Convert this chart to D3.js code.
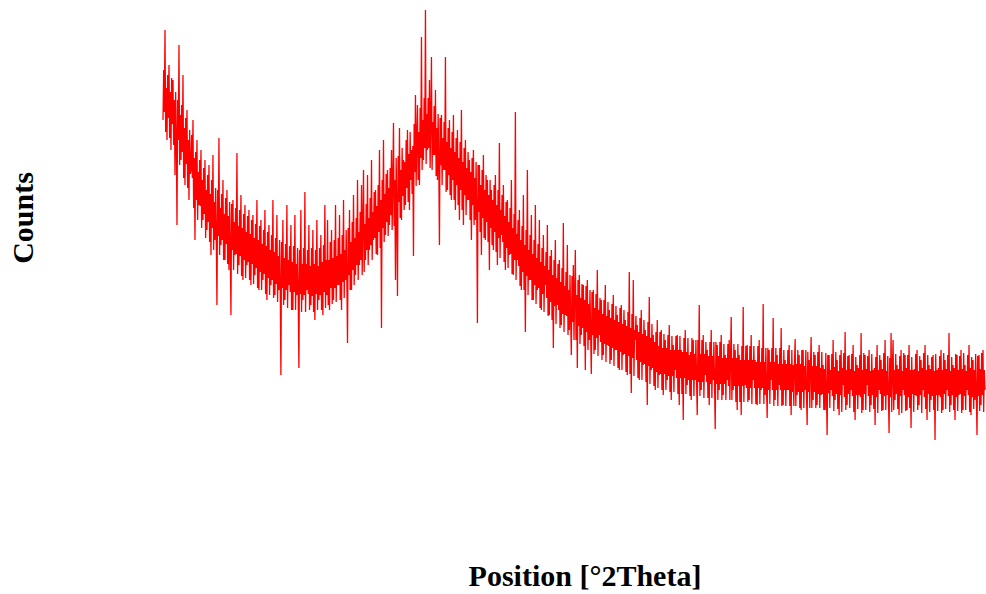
<!DOCTYPE html>
<html>
<head>
<meta charset="utf-8">
<script src="https://cdn.jsdelivr.net/npm/d3@7"></script>
<style>
  html, body { margin: 0; padding: 0; background: #fff; }
  svg { display: block; }
</style>
</head>
<body>
<svg id="chart" width="986" height="594"></svg>
<script>
// Scan settings (2Theta grid of the diffractometer)
const startAngle = 10;
const endAngle = 80;

// Each segment is stored as three interleaved sub-scans: peak, fill, core.
const peakA = [330,420,310,385,300,370,275,225,405,290,375,265,340,250,280,330,210,310,245,300,230,290,220,285,195,295,210,145,312,205,270,190,260,180,135,250,195,297,185,255,170,245,185,240,165,235,175,250,160,230,170,240,150,225,165,250,155,235,160,75,230,150,245,165,225,140,235,155,82,240,150,258,160,225,145,220,130,230,150,215,135,245,155];
const fillA = [380,318,375,312,372,305,358,350,285,345,272,332,262,320,315,242,298,230,290,222,282,212,275,208,270,200,262,260,195,256,190,252,186,248,246,180,242,176,240,174,236,172,234,170,230,166,226,162,224,160,220,156,218,155,215,152,212,148,210,208,145,206,142,204,140,204,140,202,200,138,202,138,200,140,202,138,200,140,202,140,205,142];
const coreA = [338,362,332,358,326,350,312,310,335,298,322,286,310,276,272,292,250,278,244,270,236,260,228,256,222,248,216,214,242,210,236,206,234,202,200,228,196,224,194,222,190,218,188,216,186,212,182,210,178,206,176,204,172,200,170,198,166,194,164,162,192,160,190,158,188,158,186,156,156,186,155,186,156,184,154,186,156,184,155,188,158,190];

const peakB = [230,140,220,150,245,165,235,140,250,170,107,240,160,255,175,270,185,265,280,190,275,200,290,210,260,195,300,122,310,215,280,225,300,327,170,154,322,230,290,245,320,240,300,194,355,345,265,413,290,440,300,370,393,295,360,270,205,335,280,393,260,330,250,335,240,320,230,340,225,310,250,290,210,300,230,127,285,195,295,210,270,180];
const fillB = [145,208,146,210,148,212,150,215,152,220,222,160,228,165,232,170,238,175,178,246,185,252,190,258,196,265,202,270,208,276,214,282,220,224,292,294,232,302,240,310,248,318,256,326,264,270,342,280,352,286,352,282,280,344,274,336,332,265,328,258,322,255,318,250,312,245,308,240,302,235,298,230,292,225,288,285,218,280,212,275,208,270];
const coreB = [190,162,192,162,194,165,196,168,200,172,175,208,180,212,185,218,190,224,226,200,232,205,238,212,244,218,250,222,256,228,262,235,268,270,244,248,280,254,288,262,296,270,304,278,312,318,292,330,302,336,302,332,328,295,322,288,285,312,280,308,275,302,270,298,265,292,260,288,255,282,250,278,245,272,240,238,265,232,260,228,255,222];

const peakC = [260,200,275,185,307,215,265,180,250,195,270,175,338,190,240,160,255,118,280,170,235,150,245,160,230,140,215,165,225,135,200,102,210,145,190,125,227,135,205,120,95,185,200,82,175,115,165,80,170,110,76,160,100,180,115,150,95,165,105,140,90,155,100,135,80,145,95,130,75,178,57,170,110,125,70,140,85,120,45,153,80,115];
const fillC = [205,265,198,260,192,255,188,248,182,242,176,236,170,230,164,224,160,220,155,215,150,210,146,206,142,202,138,198,134,194,130,190,126,186,122,182,118,178,115,175,174,110,110,170,106,166,104,164,100,160,158,96,156,94,152,90,150,88,148,86,146,84,144,82,142,80,140,78,138,76,136,74,134,72,132,70,130,68,128,66,126,64];
const coreC = [250,218,245,212,240,208,234,202,228,196,222,190,216,184,210,178,205,174,200,170,196,165,192,162,188,156,184,152,180,148,175,144,172,140,168,136,164,134,160,130,128,156,155,124,152,122,150,118,146,116,115,142,112,140,108,136,106,134,104,132,102,130,100,128,98,126,96,124,94,122,92,120,90,118,88,116,86,114,84,112,82,108];

const peakD = [60,130,75,120,55,110,70,125,50,105,80,115,45,100,30,120,65,95,50,110,70,35,145,60,115,75,100,45,120,70,21,105,60,115,55,95,70,110,133,60,100,40,95,35,143,65,105,50,115,70,90,45,110,60,146,55,32,100,70,132,50,95,65,122,45,90,60,105,35,85,111,55,95,40,100,60,25,90,113,50,95,45];
const fillD = [118,62,118,60,116,60,115,58,114,58,114,56,114,56,112,56,112,54,112,54,110,110,54,110,52,108,52,108,52,108,108,50,108,50,106,50,106,50,50,106,48,106,48,104,48,104,48,104,46,104,46,104,46,102,46,102,102,46,102,44,102,44,102,44,100,44,100,44,100,44,44,100,42,100,42,100,98,42,42,98,42,98];
const coreD = [78,104,76,102,76,102,74,100,74,100,72,100,72,98,72,98,70,98,70,96,70,68,96,68,96,68,94,66,94,66,66,94,66,92,66,92,64,92,92,64,92,64,90,64,90,62,90,62,90,62,88,62,88,62,88,62,60,88,60,88,60,86,60,86,60,86,60,86,58,86,86,58,86,58,84,58,58,84,84,58,84,56];

const peakE = [105,55,85,40,15,95,60,110,50,90,35,100,65,118,45,95,60,105,30,85,55,117,40,95,65,100,45,80,25,105,60,90,40,110,55,17,117,110,50,85,35,100,60,95,40,105,22,80,55,100,45,90,60,105,30,85,50,95,10,80,55,100,40,90,60,117,45,85,30,95,55,100,40,85,60,105,35,90,50,15,95,45,100,60];
const fillE = [42,98,40,97,95,42,96,39,98,41,95,38,97,40,94,42,96,38,93,41,95,37,97,40,94,38,96,41,93,37,95,39,97,40,94,92,38,40,96,41,94,37,97,39,95,42,93,38,96,40,94,37,97,41,95,38,93,40,96,39,94,37,97,41,95,38,93,40,96,39,94,37,97,40,95,38,93,41,96,94,39,97,38];
const coreE = [82,56,81,55,57,80,54,83,56,79,55,82,53,80,56,81,54,79,55,82,53,80,56,81,54,79,55,82,53,80,56,81,54,79,55,53,82,80,56,81,54,79,55,82,53,80,56,81,54,79,55,82,53,80,56,81,54,79,55,82,53,80,56,81,54,79,55,82,53,80,56,81,54,79,55,82,53,80,56,54,81,55,80];

// Axis titles
const xTitle = "Position [°2Theta]";
const yTitle = "Counts";

// Merge the interleaved sub-scans of each segment into one scan
const segments = [
  [peakA, fillA, coreA],
  [peakB, fillB, coreB],
  [peakC, fillC, coreC],
  [peakD, fillD, coreD],
  [peakE, fillE, coreE]
];
const counts = [];
segments.forEach(([p, f, c]) => {
  p.forEach((v, i) => {
    counts.push(v);
    if (i < f.length) counts.push(f[i]);
    if (i < c.length) counts.push(c[i]);
  });
});

const stepSize = (endAngle - startAngle) / (counts.length - 1);
const data = counts.map((c, i) => ({ angle: startAngle + i * stepSize, count: c }));

const svg = d3.select("#chart");

const x = d3.scaleLinear().domain([startAngle, endAngle]).range([163, 985]);
const y = d3.scaleLinear().domain([0, 440]).range([450, 10]);

const line = d3.line()
  .x(d => x(d.angle))
  .y(d => y(d.count));

svg.append("path")
  .datum(data)
  .attr("fill", "none")
  .attr("stroke", "#ff0000")
  .attr("stroke-width", 1.3)
  .attr("stroke-linejoin", "bevel")
  .attr("d", line);

svg.append("text")
  .attr("x", 585)
  .attr("y", 586)
  .attr("text-anchor", "middle")
  .attr("font-family", "'Liberation Serif', 'Times New Roman', serif")
  .attr("font-weight", "bold")
  .attr("font-size", 30)
  .attr("fill", "#000")
  .text(xTitle);

svg.append("text")
  .attr("transform", "translate(33,218) rotate(-90)")
  .attr("text-anchor", "middle")
  .attr("font-family", "'Liberation Serif', 'Times New Roman', serif")
  .attr("font-weight", "bold")
  .attr("font-size", 30)
  .attr("fill", "#000")
  .text(yTitle);
</script>
</body>
</html>
